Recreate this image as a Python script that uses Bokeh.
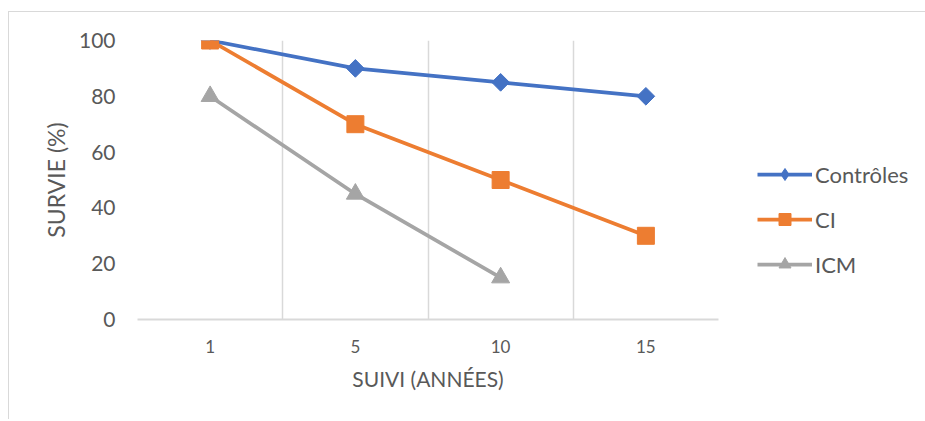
import numpy as np
from bokeh.plotting import figure
from bokeh.models import (FactorRange, Range1d, FixedTicker, Grid, Legend, LegendItem,
                          ColumnDataSource)
from bokeh.embed import file_html
from bokeh.resources import INLINE

# ---- data ----
categories = ["1", "5", "10", "15"]
controles = [100, 90, 85, 80]
ci = [100, 70, 50, 30]
icm_categories = ["1", "5", "10"]
icm = [80, 45, 15]
y_ticks = [0, 20, 40, 60, 80, 100]

BLUE = "#4472C4"
ORANGE = "#ED7D31"
GRAY = "#A5A5A5"
TEXT = "#595959"
GRID = "#D9D9D9"
FONT = "Lato"

p = figure(frame_width=581, frame_height=279, output_backend="svg", toolbar_location=None,
           x_range=FactorRange(factors=categories, range_padding=0),
           y_range=Range1d(0, 100),
           min_border_left=128, min_border_right=5,
           min_border_top=28, min_border_bottom=100)
# outer chart-area border (left and top edges)
p.styles = {"margin-left": "8px", "margin-top": "11px",
            "border-left": "1px solid #D9D9D9", "border-top": "1px solid #D9D9D9"}
p.outline_line_color = None
p.background_fill_color = "white"
p.border_fill_color = "white"

# grids: vertical lines at category boundaries only
p.xgrid.visible = False
p.ygrid.visible = False
bounds = Grid(dimension=0, ticker=FixedTicker(ticks=list(range(len(categories) + 1))),
              grid_line_color=GRID, grid_line_width=1.5)
p.add_layout(bounds)

# x axis
p.xaxis.axis_line_color = GRID
p.xaxis.axis_line_width = 2
p.xaxis.major_tick_line_color = None
p.xaxis.minor_tick_line_color = None
p.xaxis.major_label_text_font = FONT
p.xaxis.major_label_text_font_size = "17px"
p.xaxis.major_label_text_color = TEXT
p.xaxis.major_label_standoff = 14
p.xaxis.axis_label = "SUIVI (ANNÉES)"
p.xaxis.axis_label_text_font = FONT
p.xaxis.axis_label_text_font_size = "21px"
p.xaxis.axis_label_text_font_style = "normal"
p.xaxis.axis_label_text_color = TEXT
p.xaxis.axis_label_standoff = 10

# y axis
p.yaxis.ticker = FixedTicker(ticks=y_ticks)
p.yaxis.axis_line_color = None
p.yaxis.major_tick_line_color = None
p.yaxis.minor_tick_line_color = None
p.yaxis.major_label_text_font = FONT
p.yaxis.major_label_text_font_size = "21px"
p.yaxis.major_label_text_color = TEXT
p.yaxis.major_label_standoff = 16
p.yaxis.axis_label = "SURVIE (%)"
p.yaxis.axis_label_text_font = FONT
p.yaxis.axis_label_text_font_size = "23px"
p.yaxis.axis_label_text_font_style = "normal"
p.yaxis.axis_label_text_color = TEXT
p.yaxis.axis_label_standoff = 6

src_c = ColumnDataSource(dict(x=categories, y=controles))
src_ci = ColumnDataSource(dict(x=categories, y=ci))
src_icm = ColumnDataSource(dict(x=icm_categories, y=icm))

lw = 3.75
l1 = p.line("x", "y", source=src_c, line_color=BLUE, line_width=lw)
m1 = p.scatter("x", "y", source=src_c, marker="square", angle=np.pi / 4, size=12.5,
               fill_color=BLUE, line_color=BLUE)
# legend-only diamond (the legend does not rotate markers)
m1_key = p.scatter("x", "y", source=src_c, marker="diamond", size=18,
                   fill_color=BLUE, line_color=BLUE, visible=False)
l2 = p.line("x", "y", source=src_ci, line_color=ORANGE, line_width=lw)
m2 = p.scatter("x", "y", source=src_ci, marker="square", size=17,
               fill_color=ORANGE, line_color=ORANGE)
l3 = p.line("x", "y", source=src_icm, line_color=GRAY, line_width=lw)
m3 = p.scatter("x", "y", source=src_icm, marker="triangle", size=18,
               fill_color=GRAY, line_color=GRAY)

legend = Legend(items=[LegendItem(label="Contrôles", renderers=[l1, m1_key]),
                       LegendItem(label="CI", renderers=[l2, m2]),
                       LegendItem(label="ICM", renderers=[l3, m3])],
                location=(39, 40), orientation="vertical",
                glyph_width=55, glyph_height=30, spacing=15, label_standoff=3,
                padding=0, margin=0, border_line_color=None,
                background_fill_alpha=0, inactive_fill_alpha=0,
                label_text_font=FONT, label_text_font_size="22px",
                label_text_color=TEXT)
p.add_layout(legend, "right")

open("out.html", "w").write(file_html(p, INLINE))
